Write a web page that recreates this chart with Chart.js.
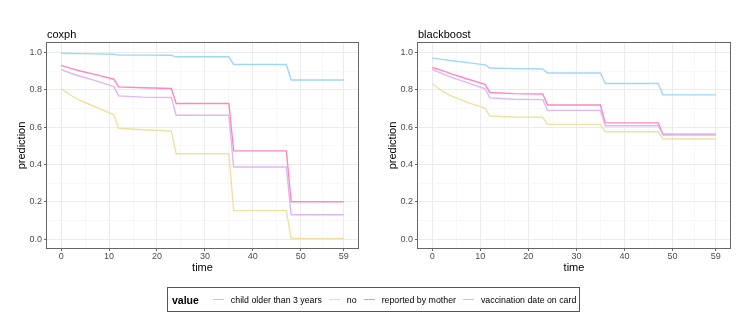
<!DOCTYPE html>
<html>
<head>
<meta charset="utf-8">
<script src="https://cdn.jsdelivr.net/npm/chart.js@4"></script>
<style>
  body { margin: 0; background: #fff; font-family: "Liberation Sans", Arial, sans-serif; }
  #wrap { position: relative; width: 747px; height: 320px; }
  canvas { position: absolute; top: 0; }
  .ptitle { position: absolute; top: 28px; font-size: 11px; line-height: 12px; color: #000; }
  #legend { position: absolute; left: 167px; top: 287px; width: 413px; height: 25px; box-sizing: border-box;
            border: 1px solid #555; display: flex; align-items: center; font-size: 8.8px; color: #000;
            padding-left: 4px; white-space: nowrap; }
  #legend b { font-size: 10.5px; margin-right: 14px; flex-shrink: 0; }
  #legend .key { width: 11px; height: 1.5px; margin-right: 7px; flex-shrink: 0; }
  #legend .txt { margin-right: 7px; flex-shrink: 0; }
</style>
</head>
<body>
<div id="wrap">
  <canvas id="coxph" width="370" height="290" style="left:0"></canvas>
  <canvas id="blackboost" width="377" height="290" style="left:370px"></canvas>
  <div class="ptitle" style="left:47px">coxph</div>
  <div class="ptitle" style="left:418px">blackboost</div>
  <div id="legend"></div>
</div>
<script>
const times = [0, 2, 4, 7, 11, 12, 17, 23, 24, 35, 36, 47, 48, 59];
const seriesNames = ['child older than 3 years', 'no', 'reported by mother', 'vaccination date on card'];
const seriesColors = ['#9fd8f5', '#ede2a2', '#ff88b8', '#dcb8f5'];

const coxphChild    = [0.995, 0.994, 0.993, 0.992, 0.990, 0.985, 0.985, 0.984, 0.976, 0.976, 0.935, 0.935, 0.852, 0.852];
const coxphNo       = [0.806, 0.770, 0.742, 0.710, 0.665, 0.593, 0.585, 0.579, 0.457, 0.457, 0.152, 0.152, 0.003, 0.003];
const coxphMother   = [0.930, 0.914, 0.900, 0.882, 0.856, 0.815, 0.810, 0.806, 0.726, 0.726, 0.472, 0.472, 0.200, 0.200];
const coxphCard     = [0.908, 0.888, 0.872, 0.850, 0.816, 0.767, 0.760, 0.758, 0.663, 0.663, 0.386, 0.386, 0.130, 0.130];

const boostChild    = [0.969, 0.962, 0.955, 0.946, 0.933, 0.916, 0.913, 0.911, 0.889, 0.889, 0.833, 0.833, 0.772, 0.772];
const boostNo       = [0.833, 0.793, 0.766, 0.735, 0.700, 0.659, 0.654, 0.652, 0.614, 0.614, 0.575, 0.575, 0.536, 0.536];
const boostMother   = [0.919, 0.903, 0.885, 0.860, 0.828, 0.785, 0.779, 0.777, 0.718, 0.718, 0.622, 0.622, 0.562, 0.562];
const boostCard     = [0.907, 0.887, 0.866, 0.840, 0.805, 0.756, 0.749, 0.747, 0.689, 0.689, 0.607, 0.607, 0.557, 0.557];

const xTickLabels = [0, 10, 20, 30, 40, 50, 59];
const xMinorTicks = [5, 15, 25, 35, 45, 54.5];
const yTickLabels = [0, 0.2, 0.4, 0.6, 0.8, 1.0];
const yMinorTicks = [0.1, 0.3, 0.5, 0.7, 0.9];

const isMajor = (list, v) => list.some(t => Math.abs(t - v) < 1e-9);

// ggplot-like panel border on top of everything
const panelBorder = {
  id: 'panelBorder',
  afterDraw(chart) {
    const { ctx, chartArea: a } = chart;
    ctx.save();
    ctx.strokeStyle = '#666';
    ctx.lineWidth = 1;
    ctx.strokeRect(a.left - 0.5, a.top - 0.5, a.right - a.left + 1, a.bottom - a.top + 1);
    ctx.restore();
  }
};

function makePanel(id, series, axisWidth, rightPad, yTitlePad) {
  const ctx = document.getElementById(id).getContext('2d');
  return new Chart(ctx, {
    type: 'line',
    data: {
      datasets: series.map((vals, i) => ({
        label: seriesNames[i],
        data: times.map((t, j) => ({ x: t, y: vals[j] })),
        borderColor: seriesColors[i],
        borderWidth: 1.4,
        pointRadius: 0,
        tension: 0,
        order: series.length - i
      }))
    },
    options: {
      responsive: false,
      animation: false,
      devicePixelRatio: 1,
      layout: { padding: { left: 0, right: rightPad, top: 43, bottom: 0 } },
      plugins: { legend: { display: false }, tooltip: { enabled: false } },
      scales: {
        x: {
          type: 'linear', min: -2.95, max: 61.95,
          afterBuildTicks: s => { s.ticks = xTickLabels.concat(xMinorTicks).map(v => ({ value: v })); },
          afterFit: s => { s.height = 42; },
          ticks: {
            autoSkip: false, maxRotation: 0, padding: 0, color: '#4d4d4d',
            font: { family: 'Liberation Sans', size: 9 },
            callback: v => isMajor(xTickLabels, v) ? String(v) : ''
          },
          grid: {
            color: c => isMajor(xTickLabels, c.tick.value) ? '#ebebeb' : '#f5f5f5',
            lineWidth: c => isMajor(xTickLabels, c.tick.value) ? 1 : 0.7,
            tickColor: c => isMajor(xTickLabels, c.tick.value) ? '#666' : 'rgba(0,0,0,0)',
            tickLength: 3
          },
          border: { display: false },
          title: { display: true, text: 'time', color: '#000',
                   font: { family: 'Liberation Sans', size: 11 }, padding: { top: 0, bottom: 15 } }
        },
        y: {
          type: 'linear', min: -0.048, max: 1.05,
          afterBuildTicks: s => { s.ticks = yTickLabels.concat(yMinorTicks).map(v => ({ value: v })); },
          afterFit: s => { s.width = axisWidth; },
          ticks: {
            autoSkip: false, padding: 2, color: '#4d4d4d',
            font: { family: 'Liberation Sans', size: 9 },
            callback: v => isMajor(yTickLabels, v) ? v.toFixed(1) : ''
          },
          grid: {
            color: c => isMajor(yTickLabels, c.tick.value) ? '#ebebeb' : '#f5f5f5',
            lineWidth: c => isMajor(yTickLabels, c.tick.value) ? 1 : 0.7,
            tickColor: c => isMajor(yTickLabels, c.tick.value) ? '#666' : 'rgba(0,0,0,0)',
            tickLength: 3
          },
          border: { display: false },
          title: { display: true, text: 'prediction', color: '#000',
                   font: { family: 'Liberation Sans', size: 11 }, padding: { top: yTitlePad, bottom: 0 } }
        }
      }
    },
    plugins: [panelBorder]
  });
}

makePanel('coxph', [coxphChild, coxphNo, coxphMother, coxphCard], 47, 12, 15);
makePanel('blackboost', [boostChild, boostNo, boostMother, boostCard], 48, 17, 16.5);

// legend shared by both panels
const legend = document.getElementById('legend');
legend.innerHTML = '<b>value</b>' + seriesNames.map((n, i) =>
  `<span class="key" style="background:${seriesColors[i]}"></span><span class="txt">${n}</span>`).join('');
</script>
</body>
</html>
